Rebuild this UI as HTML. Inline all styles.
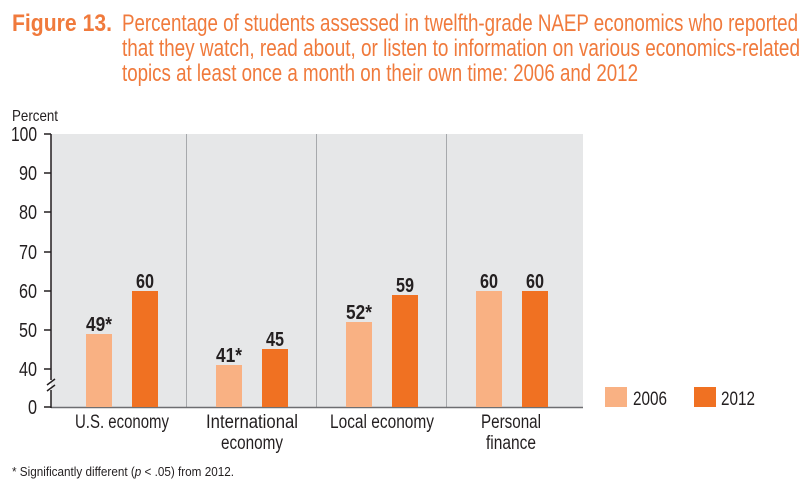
<!DOCTYPE html>
<html><head><meta charset="utf-8"><style>
body{margin:0;background:#fff}
svg{display:block}
text{font-family:"Liberation Sans",sans-serif}
</style></head><body>
<svg width="811" height="489" viewBox="0 0 811 489">
<g fill="#F07A3C">
<text x="12" y="31" font-size="24" font-weight="bold" textLength="100" lengthAdjust="spacingAndGlyphs">Figure 13.</text>
<text x="122" y="31" font-size="24" textLength="676" lengthAdjust="spacingAndGlyphs">Percentage of students assessed in twelfth-grade NAEP economics who reported</text>
<text x="122" y="56" font-size="24" textLength="678" lengthAdjust="spacingAndGlyphs">that they watch, read about, or listen to information on various economics-related</text>
<text x="122" y="81" font-size="24" textLength="516" lengthAdjust="spacingAndGlyphs">topics at least once a month on their own time: 2006 and 2012</text>
</g>
<rect x="51" y="134" width="532" height="273" fill="#E6E7E8"/>
<g stroke="#A7A9AC" stroke-width="1">
<line x1="186.5" y1="134" x2="186.5" y2="407"/>
<line x1="316.5" y1="134" x2="316.5" y2="407"/>
<line x1="446.5" y1="134" x2="446.5" y2="407"/>
</g>
<line x1="51" y1="407.5" x2="583" y2="407.5" stroke="#6D6E71" stroke-width="1.5"/>
<g stroke="#231F20" stroke-width="1.5">
<line x1="51" y1="134" x2="51" y2="380"/>
<line x1="51" y1="390" x2="51" y2="408"/>
<line x1="44" y1="134" x2="51" y2="134"/>
<line x1="44" y1="173" x2="51" y2="173"/>
<line x1="44" y1="212" x2="51" y2="212"/>
<line x1="44" y1="252" x2="51" y2="252"/>
<line x1="44" y1="291" x2="51" y2="291"/>
<line x1="44" y1="330" x2="51" y2="330"/>
<line x1="44" y1="369" x2="51" y2="369"/>
<line x1="44" y1="407" x2="51" y2="407"/>
<line x1="47" y1="385" x2="55" y2="379"/>
<line x1="47" y1="391" x2="55" y2="385"/>
</g>
<g font-size="20" fill="#231F20" text-anchor="end">
<text x="37" y="141" textLength="26" lengthAdjust="spacingAndGlyphs">100</text>
<text x="37" y="180" textLength="18" lengthAdjust="spacingAndGlyphs">90</text>
<text x="37" y="219" textLength="18" lengthAdjust="spacingAndGlyphs">80</text>
<text x="37" y="259" textLength="18" lengthAdjust="spacingAndGlyphs">70</text>
<text x="37" y="298" textLength="18" lengthAdjust="spacingAndGlyphs">60</text>
<text x="37" y="337" textLength="18" lengthAdjust="spacingAndGlyphs">50</text>
<text x="37" y="376" textLength="18" lengthAdjust="spacingAndGlyphs">40</text>
<text x="37" y="414" textLength="9" lengthAdjust="spacingAndGlyphs">0</text>
</g>
<text x="12" y="121" font-size="16" fill="#231F20" textLength="46" lengthAdjust="spacingAndGlyphs">Percent</text>
<g fill="#F9B183">
<rect x="86" y="334" width="26" height="73"/>
<rect x="216" y="365" width="26" height="42"/>
<rect x="346" y="322" width="26" height="85"/>
<rect x="476" y="291" width="26" height="116"/>
</g>
<g fill="#F07122">
<rect x="132" y="291" width="26" height="116"/>
<rect x="262" y="349" width="26" height="58"/>
<rect x="392" y="295" width="26" height="112"/>
<rect x="522" y="291" width="26" height="116"/>
</g>
<g font-size="20" font-weight="bold" fill="#231F20" text-anchor="middle">
<text x="99" y="331" textLength="26" lengthAdjust="spacingAndGlyphs">49*</text>
<text x="145" y="288" textLength="18" lengthAdjust="spacingAndGlyphs">60</text>
<text x="229" y="362" textLength="26" lengthAdjust="spacingAndGlyphs">41*</text>
<text x="275" y="346" textLength="18" lengthAdjust="spacingAndGlyphs">45</text>
<text x="359" y="319" textLength="26" lengthAdjust="spacingAndGlyphs">52*</text>
<text x="405" y="292" textLength="18" lengthAdjust="spacingAndGlyphs">59</text>
<text x="489" y="288" textLength="18" lengthAdjust="spacingAndGlyphs">60</text>
<text x="535" y="288" textLength="18" lengthAdjust="spacingAndGlyphs">60</text>
</g>
<g font-size="19" fill="#231F20" text-anchor="middle">
<text x="122" y="428" textLength="94" lengthAdjust="spacingAndGlyphs">U.S. economy</text>
<text x="252" y="428" textLength="92" lengthAdjust="spacingAndGlyphs">International</text>
<text x="252" y="449" textLength="62" lengthAdjust="spacingAndGlyphs">economy</text>
<text x="382" y="428" textLength="104" lengthAdjust="spacingAndGlyphs">Local economy</text>
<text x="511" y="428" textLength="60" lengthAdjust="spacingAndGlyphs">Personal</text>
<text x="511" y="449" textLength="50" lengthAdjust="spacingAndGlyphs">finance</text>
</g>
<rect x="605" y="387" width="22" height="20" fill="#F9B183"/>
<rect x="694" y="387" width="22" height="20" fill="#F07122"/>
<g font-size="19" fill="#231F20">
<text x="633" y="405" textLength="34" lengthAdjust="spacingAndGlyphs">2006</text>
<text x="721" y="405" textLength="34" lengthAdjust="spacingAndGlyphs">2012</text>
</g>
<text x="12" y="476" font-size="13" fill="#231F20" textLength="222" lengthAdjust="spacingAndGlyphs">* Significantly different (<tspan font-style="italic">p</tspan> &lt; .05) from 2012.</text>
</svg>
</body></html>
